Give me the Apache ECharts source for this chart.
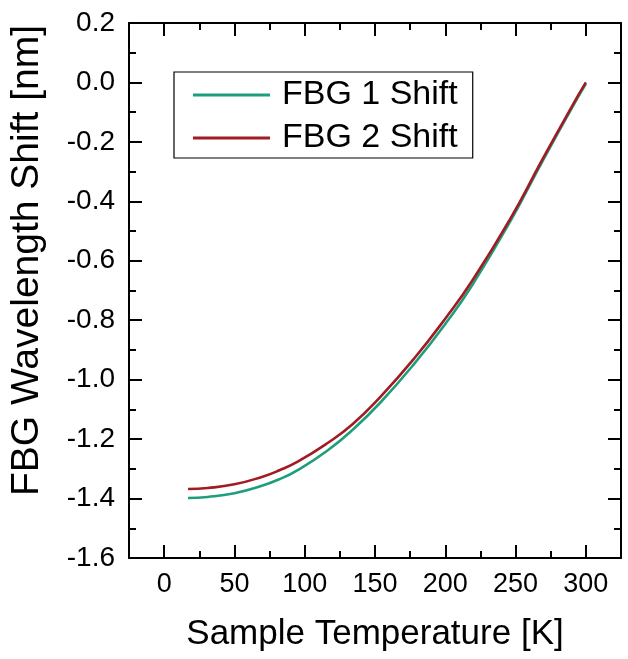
<!DOCTYPE html>
<html>
<head>
<meta charset="utf-8">
<script src="https://cdn.jsdelivr.net/npm/echarts@6/dist/echarts.min.js"></script>
<style>html,body{margin:0;padding:0;background:#fff}#c{width:628px;height:659px}</style>
</head>
<body>
<div id="c"></div>
<script>
const temps = [17, 31, 50, 69, 82, 95, 116, 134, 154, 178, 201, 219, 246, 269, 290, 300];
const fbg1 = [-1.398, -1.3945, -1.382, -1.358, -1.335, -1.304, -1.239, -1.169, -1.076, -0.946, -0.806, -0.683, -0.469, -0.266, -0.086, -0.005];
const fbg2 = [-1.368, -1.3645, -1.352, -1.328, -1.305, -1.276, -1.214, -1.150, -1.057, -0.928, -0.788, -0.668, -0.461, -0.260, -0.081, 0.0];
const seriesNames = ['FBG 1 Shift', 'FBG 2 Shift'];
const xMajorTicks = [0, 50, 100, 150, 200, 250, 300];

const FONT = 'Liberation Sans, Arial, sans-serif';
const BLACK = '#000';
const pair = (xs, ys) => xs.map((x, i) => [x, ys[i]]);

const baseX = {
  type: 'value', min: -25, max: 325, interval: 25,
  axisLine: { show: true, onZero: false, lineStyle: { color: BLACK, width: 2 } },
  axisTick: { show: true, inside: true, length: 7, lineStyle: { color: BLACK, width: 2 } },
  splitLine: { show: false },
  axisLabel: { show: false }
};
const majorX = {
  type: 'value', min: -25, max: 325, interval: 25,
  axisLine: { show: false, onZero: false },
  axisTick: { show: true, inside: true, length: 13, customValues: xMajorTicks, lineStyle: { color: BLACK, width: 2 } },
  splitLine: { show: false },
  axisLabel: { show: false }
};

const chart = echarts.init(document.getElementById('c'), null, { renderer: 'canvas' });
chart.setOption({
  backgroundColor: '#fff',
  animation: false,
  grid: { left: 127, right: 7, top: 23, bottom: 101, containLabel: false },
  legend: {
    orient: 'vertical', left: 174, top: 72,
    padding: [5, 15, 2, 19],
    itemGap: 7, itemWidth: 77, itemHeight: 3, icon: 'rect',
    borderColor: BLACK, borderWidth: 1.2, borderRadius: 0,
    textStyle: { fontFamily: FONT, fontSize: 34, color: BLACK, lineHeight: 36, padding: [0, 0, 0, 7] },
    data: seriesNames
  },
  xAxis: [
    Object.assign({}, baseX, {
      position: 'bottom',
      axisLabel: {
        show: true, margin: 13, fontFamily: FONT, fontSize: 27, color: BLACK,
        formatter: v => (v % 50 === 0 && v >= 0 && v <= 300) ? String(v) : ''
      },
      name: 'Sample Temperature [K]', nameLocation: 'middle', nameGap: 59,
      nameTextStyle: { fontFamily: FONT, fontSize: 35, color: BLACK }
    }),
    Object.assign({}, majorX, { position: 'bottom' }),
    Object.assign({}, baseX, { position: 'top' }),
    Object.assign({}, majorX, { position: 'top' })
  ],
  yAxis: [
    {
      type: 'value', position: 'left', min: -1.6, max: 0.2, interval: 0.2,
      axisLine: { show: true, onZero: false, lineStyle: { color: BLACK, width: 2 } },
      axisTick: { show: true, inside: true, length: 13, lineStyle: { color: BLACK, width: 2 } },
      minorTick: { show: true, splitNumber: 2, length: 7, lineStyle: { color: BLACK, width: 2 } },
      splitLine: { show: false },
      axisLabel: { margin: 14, fontFamily: FONT, fontSize: 28, color: BLACK, formatter: v => v.toFixed(1) },
      name: 'FBG Wavelength Shift [nm]', nameLocation: 'middle', nameGap: 82,
      nameTextStyle: { fontFamily: FONT, fontSize: 39, color: BLACK, padding: [0, 0, 0, 60] }
    },
    {
      type: 'value', position: 'right', min: -1.6, max: 0.2, interval: 0.2,
      axisLine: { show: true, onZero: false, lineStyle: { color: BLACK, width: 2 } },
      axisTick: { show: true, inside: true, length: 13, lineStyle: { color: BLACK, width: 2 } },
      minorTick: { show: true, splitNumber: 2, length: 7, lineStyle: { color: BLACK, width: 2 } },
      splitLine: { show: false },
      axisLabel: { show: false }
    }
  ],
  series: [
    {
      name: seriesNames[0], type: 'line', data: pair(temps, fbg1), smooth: 0.5,
      showSymbol: false, color: '#1f9e7d', lineStyle: { width: 2.6, color: '#1f9e7d' }
    },
    {
      name: seriesNames[1], type: 'line', data: pair(temps, fbg2), smooth: 0.5,
      showSymbol: false, color: '#a11b22', lineStyle: { width: 2.6, color: '#a11b22' }
    }
  ]
});
</script>
</body>
</html>
